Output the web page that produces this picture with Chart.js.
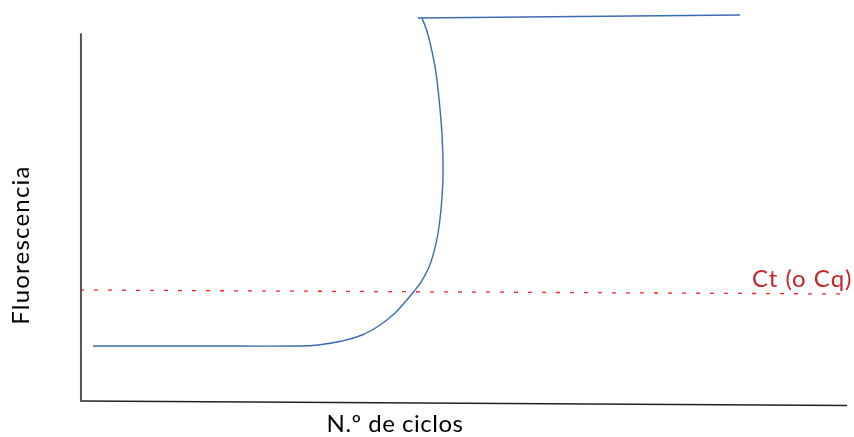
<!DOCTYPE html>
<html>
<head>
<meta charset="utf-8">
<script src="https://cdn.jsdelivr.net/npm/chart.js@4.4.1/dist/chart.umd.min.js"></script>
<style>
    html, body { margin: 0; padding: 0; background: #fff; }
    #wrap { width: 854px; height: 437px; }
</style>
</head>
<body>
<div id="wrap"><canvas id="qpcr" width="854" height="437"></canvas></div>
<script>
// amplification curve (cycles vs fluorescence, arbitrary units)
const cycles = [0.68, 6.25, 11.46, 12.4, 13.65, 14.69, 15.63, 16.41, 16.93, 17.37, 17.76, 18.18,
    18.46, 18.65, 18.8, 18.89, 18.91, 18.87, 18.79, 18.68, 18.52, 18.26, 18.05, 17.81];
const fluorescence = [14.29, 14.29, 14.29, 14.54, 15.56, 17.09, 19.64, 22.7, 25.51, 28.06, 30.61, 34.44,
    38.78, 43.11, 48.98, 55.36, 59.95, 66.84, 72.45, 78.32, 84.69, 91.07, 94.9, 97.96];
// plateau
const plateauCycles = [17.6, 34.38];
const plateauFluo = [97.96, 98.72];
// threshold line (Ct)
const thresholdCycles = [0, 40];
const thresholdFluo = [28.57, 27.55];
// hand drawn axes
const yAxisCycles = [0.05, 0.05];
const yAxisFluo = [0, 94.1];
const xAxisCycles = [0, 39.95];
const xAxisFluo = [0.26, -0.9];

const xTitle = "N.º de ciclos";
const yTitle = "Fluorescencia";
const ctLabel = "Ct (o Cq)";

const toPoints = (xs, ys) => xs.map((x, i) => ({ x: x, y: ys[i] }));

const labelsPlugin = {
    id: "labels",
    afterDraw: (chart) => {
        const ctx = chart.ctx;
        ctx.save();
        ctx.fillStyle = "#000";
        ctx.font = "24px Lato";
        ctx.letterSpacing = "0.5px";
        ctx.textAlign = "center";
        ctx.textBaseline = "alphabetic";
        ctx.fillText(xTitle, 395, 432);
        ctx.letterSpacing = "1.2px";
        ctx.translate(29, 245);
        ctx.rotate(-Math.PI / 2);
        ctx.fillText(yTitle, 0, 0);
        ctx.restore();
        ctx.save();
        ctx.fillStyle = "#c62828";
        ctx.font = "24px Lato";
        ctx.letterSpacing = "1px";
        ctx.textAlign = "left";
        ctx.fillText(ctLabel, 752, 287);
        ctx.restore();
    },
};

new Chart(document.getElementById("qpcr"), {
    type: "scatter",
    data: {
        datasets: [
            {
                data: toPoints(yAxisCycles, yAxisFluo),
                showLine: true,
                borderColor: "#555555",
                borderWidth: 2,
                pointRadius: 0,
            },
            {
                data: toPoints(xAxisCycles, xAxisFluo),
                showLine: true,
                borderColor: "#222222",
                borderWidth: 1.6,
                pointRadius: 0,
            },
            {
                data: toPoints(thresholdCycles, thresholdFluo),
                showLine: true,
                borderColor: "#ff2020",
                borderWidth: 1.3,
                borderDash: [4, 10],
                pointRadius: 0,
            },
            {
                data: toPoints(cycles, fluorescence),
                showLine: true,
                borderColor: "#3a6bb5",
                borderWidth: 1.4,
                tension: 0.4,
                pointRadius: 0,
            },
            {
                data: toPoints(plateauCycles, plateauFluo),
                showLine: true,
                borderColor: "#3a6bb5",
                borderWidth: 1.6,
                pointRadius: 0,
            },
        ],
    },
    options: {
        responsive: false,
        animation: false,
        devicePixelRatio: 1,
        clip: false,
        layout: {
            padding: { left: 80, right: 6, top: 10, bottom: 35 },
        },
        scales: {
            x: { type: "linear", min: 0, max: 40, display: false },
            y: { type: "linear", min: 0, max: 100, display: false },
        },
        plugins: {
            legend: { display: false },
            tooltip: { enabled: false },
        },
    },
    plugins: [labelsPlugin],
});
</script>
</body>
</html>
